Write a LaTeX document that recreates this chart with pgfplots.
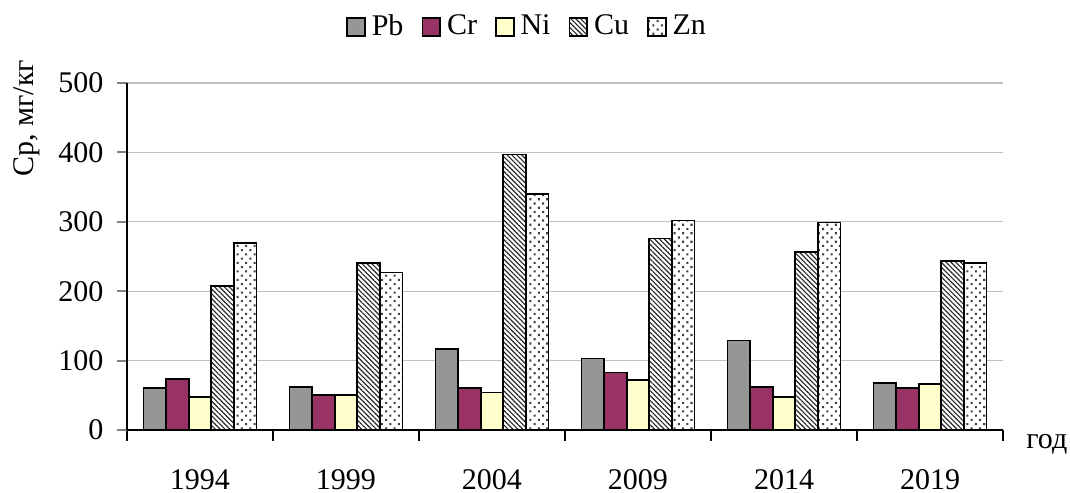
\documentclass[border=0pt]{standalone}
\usepackage{fontspec}
\setmainfont{Liberation Serif}
\usepackage{pgfplots}
\pgfplotsset{compat=1.18}
\usetikzlibrary{patterns.meta}
\definecolor{cPb}{HTML}{969696}
\definecolor{cCr}{HTML}{993366}
\definecolor{cNi}{HTML}{FFFFCC}
\definecolor{cGrid}{HTML}{C0C0C0}
\begin{document}
\begin{tikzpicture}
\begin{axis}[
  name=ax,
  scale only axis,
  width=292pt, height=115.67pt,
  ybar=0pt,
  bar width=0.155,
  xmin=-0.5, xmax=5.5,
  ymin=0, ymax=500,
  ytick={0,100,...,500},
  xtick={0,...,5},
  xticklabels={1994,1999,2004,2009,2014,2019},
  minor xtick={-0.5,0.5,...,5.5},
  axis x line*=bottom,
  axis y line*=left,
  axis line style={line width=0.6pt},
  tick align=outside,
  major tick length=3.3pt,
  minor tick length=3.5pt,
  xtick style={draw=none},
  minor x tick style={draw=black, line width=0.6pt},
  ytick style={line width=0.6pt},
  ymajorgrids,
  grid style={cGrid, line width=0.45pt},
  /pgf/number format/assume math mode=true,
  tick label style={font=\fontsize{10}{12}\selectfont},
  xticklabel style={inner sep=0.5pt, yshift=-9.17pt},
  yticklabel style={xshift=-1pt},
  ylabel={Ср, мг/кг},
  every axis y label/.append style={at={([xshift=-33.3pt]rel axis cs:0,0.899)}, anchor=center},
  legend style={at={(0.459,1.161)}, anchor=center, draw=none, fill=none,
    legend columns=5, font=\fontsize{10}{12}\selectfont,
    /tikz/every even column/.append style={column sep=4pt},
    inner sep=0pt},
  legend image code/.code={\draw[#1,/tikz/.cd,line width=0.6pt] (0pt,-2.9pt) rectangle (5.9pt,3pt);},
  every axis plot/.append style={draw=black, line width=0.6pt},
  clip=false,
]
\addplot[fill=cPb] coordinates {(0,60) (1,62) (2,117) (3,103) (4,129) (5,68)};
\addplot[fill=cCr] coordinates {(0,74) (1,50) (2,60) (3,83) (4,62) (5,60)};
\addplot[fill=cNi] coordinates {(0,48) (1,50) (2,54) (3,72) (4,48) (5,66)};
\addplot[fill=white, postaction={pattern={Lines[angle=-45,distance=1.15pt,line width=0.38pt]}, pattern color=black!85}] coordinates {(0,207) (1,241) (2,397) (3,276) (4,256) (5,244)};
\addplot[fill=white, postaction={pattern={Dots[angle=45,distance=2pt,radius=0.5pt]}, pattern color=black!75}] coordinates {(0,270) (1,227) (2,340) (3,302) (4,299) (5,241)};
\legend{Pb,Cr,Ni,Cu,Zn}
\node[anchor=center, font=\fontsize{10}{12}\selectfont] at (rel axis cs:1.05,-0.042) {год};
\end{axis}
\pgfresetboundingbox
\path ([shift={(-42.33pt,-20.67pt)}]ax.south west) rectangle ([shift={(314.33pt,143.33pt)}]ax.south west);
\end{tikzpicture}
\end{document}
